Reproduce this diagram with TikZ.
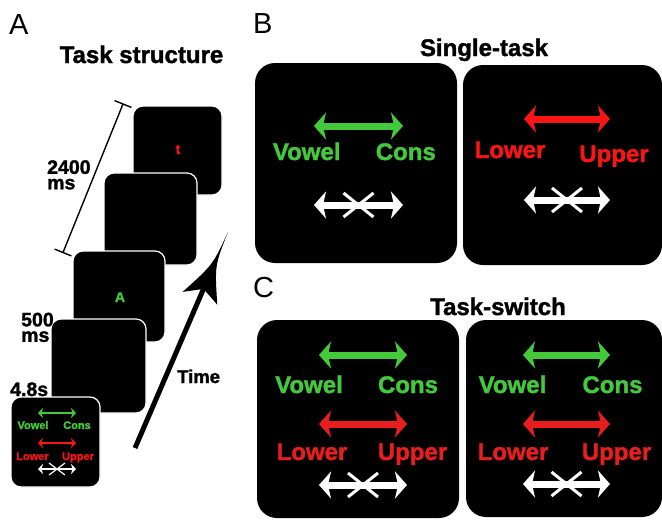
\documentclass[tikz,border=0pt]{standalone}
\usepackage{fontspec}
\setmainfont{Liberation Sans}[BoldFeatures={FakeBold=1.5}]
\usetikzlibrary{arrows.meta}
\definecolor{gr}{RGB}{68,200,60}
\definecolor{rd}{RGB}{250,20,20}
\definecolor{rdc}{RGB}{232,30,30}
\tikzset{
  bigcard/.style={fill=black, rounded corners=20pt, inner sep=0pt},
  scard/.style={fill=black, draw=white, line width=1.2pt, rounded corners=10pt, inner sep=0pt},
  panel/.style={font=\fontsize{29}{29}\selectfont, anchor=base west, inner sep=0pt},
  title/.style={font=\fontsize{24}{24}\selectfont\bfseries, anchor=base, inner sep=0pt},
  word/.style={font=\fontsize{24}{24}\selectfont\bfseries, anchor=base, inner sep=0pt},
  sword/.style={font=\fontsize{11}{11}\selectfont\bfseries, anchor=base, inner sep=0pt},
  tlabel/.style={font=\fontsize{19.5}{15.5}\selectfont\bfseries, anchor=north west, align=left, inner sep=0pt},
  bigarr/.style={line width=7pt, {Stealth[length=12pt,width=27pt,inset=3pt]}-{Stealth[length=12pt,width=27pt,inset=3pt]}},
  smarr/.style={line width=2.5pt, {Stealth[length=5pt,width=10pt,inset=1.5pt]}-{Stealth[length=5pt,width=10pt,inset=1.5pt]}},
  dim/.style={line width=1.4pt, black},
}
\newcommand\xcross[5]{% cx, cy, half width, half height, line width
  \draw[white, line width=#5] ({#1-#3},{#2-#4}) -- ({#1+#3},{#2+#4});
  \draw[white, line width=#5] ({#1-#3},{#2+#4}) -- ({#1+#3},{#2-#4});
}
\begin{document}
\begin{tikzpicture}[x=1pt,y=-1pt]
\fill[white] (0,0) rectangle (662,520);
\useasboundingbox (0,0) rectangle (662,520);

% ---------------- Panel A ----------------
\node[panel] (la) at (9,34) {A};
\node[title] (ta) at (141.5,63) {Task structure};

\node[scard, minimum width=89pt, minimum height=89pt] (c1) at (177.5,150.5) {};
\node[font=\fontsize{14}{14}\selectfont\bfseries, text=rd, anchor=base, inner sep=0pt] (ct) at (178,154) {t};
\node[scard, minimum width=93pt, minimum height=92pt] (c2) at (150.5,219) {};
\node[scard, minimum width=92pt, minimum height=91pt] (c3) at (119,296.5) {};
\node[font=\fontsize{14}{14}\selectfont\bfseries, text=gr, anchor=base, inner sep=0pt] (ca) at (120,302) {A};
\node[scard, minimum width=95pt, minimum height=94pt] (c4) at (98.5,366) {};
\node[scard, minimum width=89pt, minimum height=90pt] (c5) at (55.5,442) {};

% small stimulus card contents
\coordinate (s1l) at (38,413); \coordinate (s1r) at (76,413);
\draw[smarr, gr] (s1l) -- (s1r);
\node[sword, text=gr] (sv) at (33,429) {Vowel};
\node[sword, text=gr] (sc) at (77,429) {Cons};
\coordinate (s2l) at (38,443); \coordinate (s2r) at (76,443);
\draw[smarr, rd] (s2l) -- (s2r);
\node[sword, text=rd] (slo) at (32.5,460) {Lower};
\node[sword, text=rd] (sup) at (78,460) {Upper};
\coordinate (s3l) at (38,469); \coordinate (s3r) at (76,469);
\draw[smarr, white] (s3l) -- (s3r);
\xcross{57}{469}{8}{6}{1.2pt}

% duration line
\coordinate (d1) at (123,104); \coordinate (d2) at (63,252.5);
\coordinate (d1a) at (114.6,100.6); \coordinate (d1b) at (131.4,107.4);
\coordinate (d2a) at (54.6,249.1); \coordinate (d2b) at (71.4,255.9);
\draw[dim] (d1) -- (d2);
\draw[dim] (d1a) -- (d1b);
\draw[dim] (d2a) -- (d2b);

\node[tlabel] (l2400) at (47,160) {2400\\ms};
\node[tlabel] (l500) at (21,312.5) {500\\ms};
\node[font=\fontsize{19.5}{19.5}\selectfont\bfseries, anchor=base west, inner sep=0pt] (l48) at (10,396) {4.8s};

% time arrow
\coordinate (t0) at (135,448);
\coordinate (tn) at (203.5,288.9);
\coordinate (tt) at (228,232);
\coordinate (tl) at (182.6,291.9);
\coordinate (tr) at (217.3,304.7);
\draw[line width=5pt] (t0) -- (tn);
\fill[black] (tt) .. controls (212.9,264.7) .. (tl) -- (tn) -- (tr) .. controls (214.7,265.5) .. (tt) -- cycle;
\node[font=\fontsize{18.5}{18.5}\selectfont\bfseries, anchor=base west, inner sep=0pt] (time) at (177,383) {Time};

% ---------------- Panel B ----------------
\node[panel] (lb) at (253,33) {B};
\node[title] (tb) at (484,56) {Single-task};
\node[bigcard, minimum width=202pt, minimum height=200pt] (b1) at (356,163) {};
\node[bigcard, minimum width=199pt, minimum height=200pt] (b2) at (562.5,165) {};

\coordinate (b1gl) at (314,126); \coordinate (b1gr) at (403,126);
\draw[bigarr, gr] (b1gl) -- (b1gr);
\node[word, text=gr] (bv) at (306.7,160) {Vowel};
\node[word, text=gr] (bc) at (405.8,160) {Cons};
\coordinate (b1wl) at (314,205); \coordinate (b1wr) at (403,205);
\draw[bigarr, white] (b1wl) -- (b1wr);
\xcross{358.5}{205}{15}{12}{3pt}

\coordinate (b2rl) at (524,119); \coordinate (b2rr) at (610,119);
\draw[bigarr, rd] (b2rl) -- (b2rr);
\node[word, text=rd] (blo) at (510,158) {Lower};
\node[word, text=rd] (bup) at (614,162) {Upper};
\coordinate (b2wl) at (524,200); \coordinate (b2wr) at (610,200);
\draw[bigarr, white] (b2wl) -- (b2wr);
\xcross{567}{200}{15}{12}{3pt}

% ---------------- Panel C ----------------
\node[panel] (lc) at (253,297) {C};
\node[title] (tc) at (498,315) {Task-switch};
\node[bigcard, minimum width=202pt, minimum height=198pt] (k1) at (358,419) {};
\node[bigcard, minimum width=196pt, minimum height=197pt] (k2) at (564,418.5) {};

% left
\coordinate (k1gl) at (319,355); \coordinate (k1gr) at (407,355);
\draw[bigarr, gr] (k1gl) -- (k1gr);
\node[word, text=gr] (kv1) at (309,393) {Vowel};
\node[word, text=gr] (kc1) at (408,393) {Cons};
\coordinate (k1rl) at (319,424); \coordinate (k1rr) at (407,424);
\draw[bigarr, rdc] (k1rl) -- (k1rr);
\node[word, text=rdc] (klo1) at (312,460) {Lower};
\node[word, text=rdc] (kup1) at (412.5,460) {Upper};
\coordinate (k1wl) at (319,485); \coordinate (k1wr) at (407,485);
\draw[bigarr, white] (k1wl) -- (k1wr);
\xcross{363}{485}{15}{12}{3pt}

% right
\coordinate (k2gl) at (523,355); \coordinate (k2gr) at (610,355);
\draw[bigarr, gr] (k2gl) -- (k2gr);
\node[word, text=gr] (kv2) at (512.5,393) {Vowel};
\node[word, text=gr] (kc2) at (612.5,393) {Cons};
\coordinate (k2rl) at (523,424); \coordinate (k2rr) at (610,424);
\draw[bigarr, rdc] (k2rl) -- (k2rr);
\node[word, text=rdc] (klo2) at (513,460) {Lower};
\node[word, text=rdc] (kup2) at (616.5,460) {Upper};
\coordinate (k2wl) at (523,484); \coordinate (k2wr) at (610,484);
\draw[bigarr, white] (k2wl) -- (k2wr);
\xcross{566.5}{484}{15}{12}{3pt}
\end{tikzpicture}
\end{document}
